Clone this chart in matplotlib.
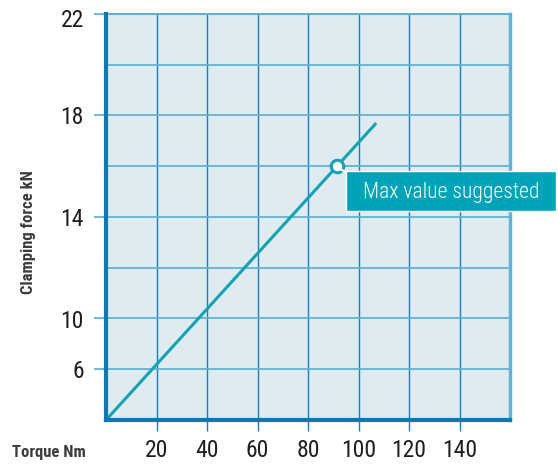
"""Clamping force vs torque chart."""

import matplotlib
matplotlib.use("Agg")
import matplotlib.pyplot as plt
from matplotlib.lines import Line2D
from matplotlib.patches import Rectangle
from matplotlib.transforms import IdentityTransform, ScaledTranslation

plt.rcParams["font.family"] = ["Roboto Condensed", "DejaVu Sans"]

# data
torque = [0, 107]
force = [6, 17.7]
max_torque = 91.5
max_force = 16.0
max_label = "Max value suggested"

x_ticks = [20, 40, 60, 80, 100, 120, 140]
x_grid = [20, 40, 60, 80, 100, 120, 140, 160]
y_grid = [8, 10, 12, 14, 16, 18, 20]
y_ticks = [8, 10, 14, 18, 22]
y_tick_labels = ["6", "10", "14", "18", "22"]

BG = "#deebf1"
VGRID = "#1b80b6"
HGRID = "#63b2d4"
SPINE = "#1478b0"
LINE = "#17a2b4"
BOX = "#00a3b7"
LABEL = "#3c3c3c"

fig = plt.figure(figsize=(5.58, 4.65), dpi=100)
ax = fig.add_axes([106 / 558, 45 / 465, 404 / 558, 406 / 465])
ax.set_facecolor(BG)
ax.set_xlim(0, 160)
ax.set_ylim(6, 22)

for x in x_grid:
    ax.axvline(x, color=VGRID, lw=1.0, zorder=1)
for y in y_grid:
    ax.axhline(y, color=HGRID, lw=1.3, zorder=1)
ax.axhline(22, color=HGRID, lw=1.5, zorder=1, clip_on=False)
ax.axvline(160, color=HGRID, lw=2.5, zorder=1, clip_on=False)

ax.plot(torque, force, color=LINE, lw=2.2, zorder=3, solid_capstyle="butt")
ax.plot([max_torque], [max_force], "o", ms=9, mfc="white", mec=LINE, mew=2.2, zorder=5)

# callout box, placed in pixels next to the marker
px, py = ax.transData.transform((max_torque, max_force))
fig.add_artist(Line2D([px + 3, px + 10], [py - 3, py - 6], color="white", lw=1.5,
                      transform=IdentityTransform(), zorder=4))
fig.add_artist(Rectangle((px + 9, py - 45), 210, 40, fc=BOX, ec="white", lw=1.0,
                         transform=IdentityTransform(), zorder=4))
fig.text(px + 9 + 105, py - 26, max_label, transform=IdentityTransform(),
         ha="center", va="center", fontsize=15.5, fontweight="light", color="white", zorder=5)

ax.set_xticks(x_ticks)
ax.set_yticks(y_ticks)
ax.set_yticklabels(y_tick_labels)
ax.tick_params(axis="x", length=8, width=1.0, color=VGRID, pad=6, labelsize=17, labelcolor="#1e1e1e")
ax.tick_params(axis="y", length=9, width=1.3, color=HGRID, pad=7, labelsize=17, labelcolor="#1e1e1e")
top = ax.get_yticklabels()[-1]
top.set_transform(top.get_transform() + ScaledTranslation(0, -0.04, fig.dpi_scale_trans))

for side in ["top", "right"]:
    ax.spines[side].set_visible(False)
for side in ["left", "bottom"]:
    ax.spines[side].set_color(SPINE)
    ax.spines[side].set_linewidth(3)
    ax.spines[side].set_zorder(6)

fig.text(28 / 558, 1 - 232 / 465, "Clamping force kN", rotation=90, ha="center", va="center",
         fontsize=12, fontweight="bold", color=LABEL)
fig.text(12 / 558, 1 - 452 / 465, "Torque Nm", ha="left", va="center",
         fontsize=12, fontweight="bold", color=LABEL)

fig.savefig("out.png", dpi=100)
